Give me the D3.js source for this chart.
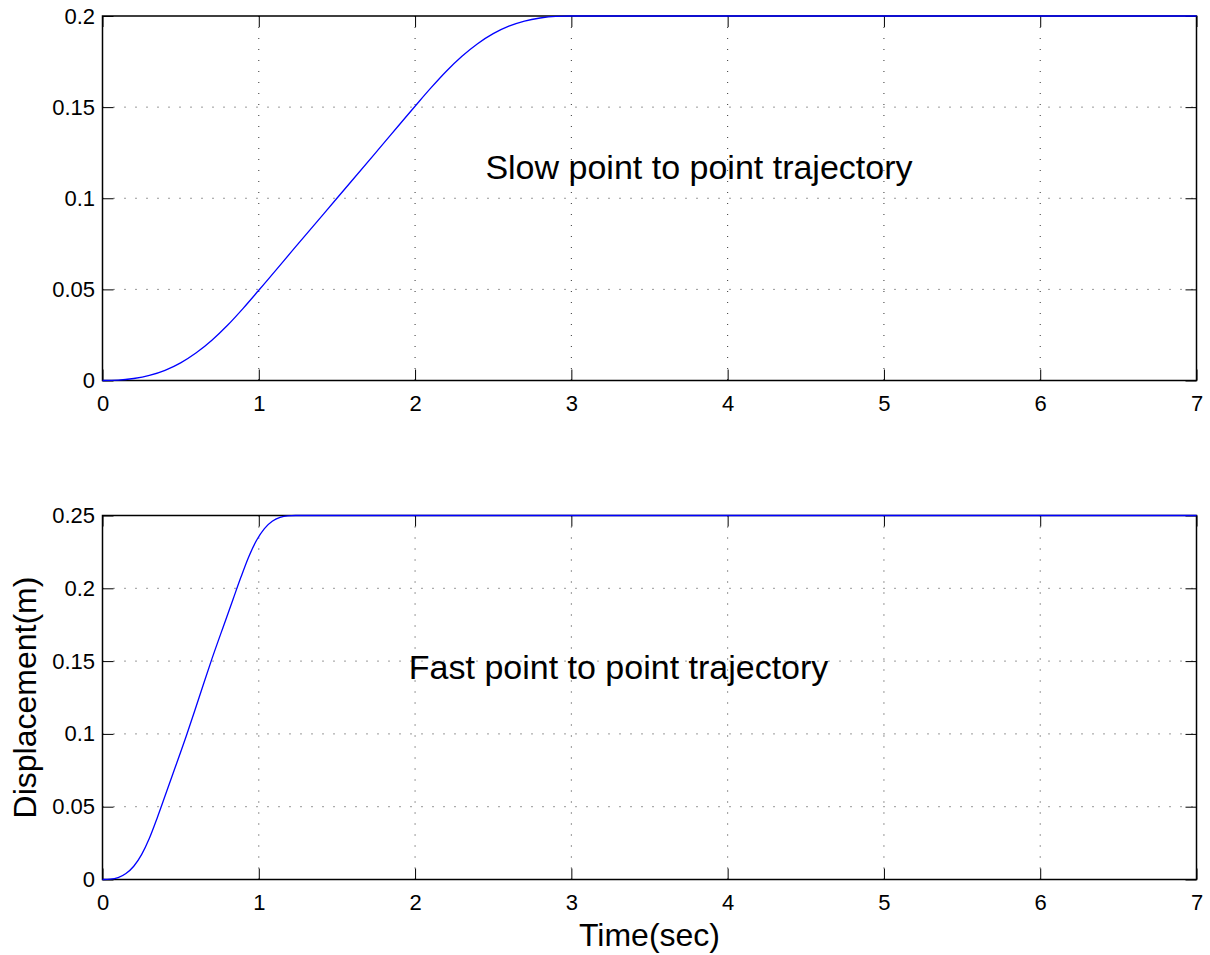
<!DOCTYPE html>
<html>
<head>
<meta charset="utf-8">
<script src="https://cdn.jsdelivr.net/npm/d3@7"></script>
<style>
  body { margin: 0; background: #fff; }
  svg { display: block; font-family: "Liberation Sans", Arial, Helvetica, sans-serif; }
  .tick line { stroke: #000; stroke-width: 1; }
  .tick text { font-size: 22px; fill: #000; }
</style>
</head>
<body>
<div class="chart"></div>
<script>
// x ticks shared by both panels
var xTicks = [0, 1, 2, 3, 4, 5, 6, 7]

// slow trajectory
var slowTime = [0, 0.1, 0.2, 0.3, 0.4, 0.5, 0.6, 0.7, 0.8, 0.9, 1.0, 1.25, 1.5, 1.75, 2.0,
  2.1, 2.2, 2.3, 2.4, 2.5, 2.6, 2.7, 2.8, 2.9, 3.0, 7]
var slowDisp = [0, 0.0002, 0.0011, 0.0028, 0.0056, 0.0097, 0.0152, 0.0221, 0.0303, 0.0396, 0.0495, 0.0748, 0.1, 0.1252, 0.1505,
  0.1604, 0.1697, 0.1779, 0.1848, 0.1903, 0.1944, 0.1972, 0.1989, 0.1998, 0.2, 0.2]
var slowTicks = [0, 0.05, 0.1, 0.15, 0.2]

// fast trajectory
var fastTime = [0, 0.05, 0.1, 0.15, 0.2, 0.25, 0.3, 0.35, 0.4, 0.45, 0.536, 0.618, 0.7, 0.786,
  0.836, 0.886, 0.936, 0.986, 1.036, 1.086, 1.136, 1.186, 1.236, 7]
var fastDisp = [0, 0.0002, 0.0013, 0.0041, 0.0091, 0.0171, 0.0283, 0.0423, 0.0573, 0.0724, 0.0985, 0.125, 0.1515, 0.1776,
  0.1927, 0.2077, 0.2217, 0.2330, 0.2410, 0.2460, 0.2487, 0.2498, 0.25, 0.25]
var fastTicks = [0, 0.05, 0.1, 0.15, 0.2, 0.25]

var width = 1210
var height = 955
var left = 102.5, right = 1196.5

var svg = d3.select('.chart')
  .append('svg')
  .attr('width', width)
  .attr('height', height)

var x = d3.scaleLinear().domain([0, 7]).range([left, right])

function panel(times, disp, yMax, yTicks, top, bottom, label) {
  var y = d3.scaleLinear().domain([0, yMax]).range([bottom, top])
  var g = svg.append('g')

  // dotted grid
  g.selectAll('.gx')
    .data(xTicks.slice(1, -1))
    .enter()
    .append('line')
    .attr('x1', function(d) { return x(d) })
    .attr('x2', function(d) { return x(d) })
    .attr('y1', top)
    .attr('y2', bottom)
    .style('stroke', '#333')
    .style('stroke-dasharray', '1,10')
  g.selectAll('.gy')
    .data(yTicks.slice(1, -1))
    .enter()
    .append('line')
    .attr('x1', left)
    .attr('x2', right)
    .attr('y1', function(d) { return y(d) })
    .attr('y2', function(d) { return y(d) })
    .style('stroke', '#333')
    .style('stroke-dasharray', '1,10')

  // axes with inward ticks
  var fmt = function(d) { return String(+d.toFixed(2)) }
  g.append('g')
    .attr('transform', 'translate(0,' + bottom + ')')
    .call(d3.axisBottom(x).tickValues(xTicks).tickSize(-11).tickPadding(15).tickFormat(fmt))
    .call(function(s) { s.select('.domain').remove() })
  g.append('g')
    .attr('transform', 'translate(0,' + top + ')')
    .call(d3.axisTop(x).tickValues(xTicks).tickSize(-11).tickFormat(''))
    .call(function(s) { s.select('.domain').remove() })
  g.append('g')
    .attr('transform', 'translate(' + left + ',0)')
    .call(d3.axisLeft(y).tickValues(yTicks).tickSize(-11).tickPadding(7.5).tickFormat(fmt))
    .call(function(s) { s.select('.domain').remove() })
  g.append('g')
    .attr('transform', 'translate(' + right + ',0)')
    .call(d3.axisRight(y).tickValues(yTicks).tickSize(-11).tickFormat(''))
    .call(function(s) { s.select('.domain').remove() })
  g.selectAll('.tick text').attr('font-family', null).attr('font-size', null)

  // frame
  g.append('rect')
    .attr('x', left)
    .attr('y', top)
    .attr('width', right - left)
    .attr('height', bottom - top)
    .style('fill', 'none')
    .style('stroke', '#000')
    .style('stroke-width', 1.5)

  var line = d3.line()
    .curve(d3.curveMonotoneX)
    .x(function(d) { return x(d[0]) })
    .y(function(d) { return y(d[1]) })
  g.append('path')
    .datum(d3.zip(times, disp))
    .attr('d', line)
    .style('fill', 'none')
    .style('stroke', '#0000ff')
    .style('stroke-width', 1.3)

  g.append('text')
    .attr('x', x(label.t))
    .attr('y', y(label.v))
    .style('font-size', '34px')
    .text(label.text)
  return y
}

panel(slowTime, slowDisp, 0.2, slowTicks, 16, 380.5,
  {t: 2.45, v: 0.1106, text: 'Slow point to point trajectory'})
panel(fastTime, fastDisp, 0.25, fastTicks, 515.5, 879.5,
  {t: 1.96, v: 0.1377, text: 'Fast point to point trajectory'})

svg.append('text')
  .attr('x', (left + right) / 2)
  .attr('y', 946)
  .style('text-anchor', 'middle')
  .style('font-size', '32px')
  .text('Time(sec)')

svg.append('text')
  .attr('transform', 'translate(36,' + (515.5 + 879.5) / 2 + ') rotate(-90)')
  .style('text-anchor', 'middle')
  .style('font-size', '32px')
  .text('Displacement(m)')
</script>
</body>
</html>
